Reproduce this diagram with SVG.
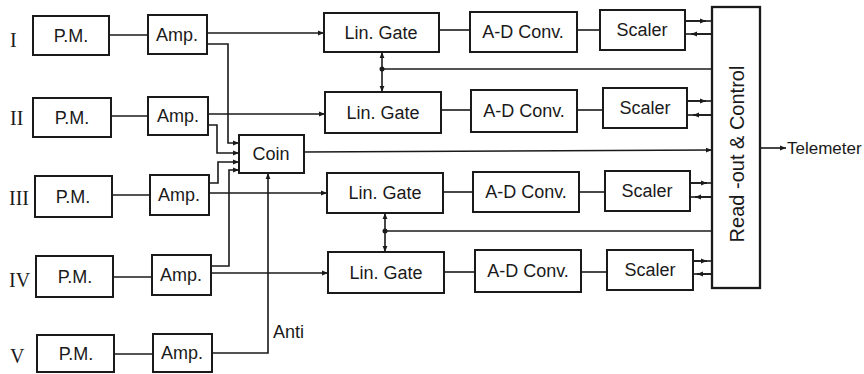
<svg xmlns="http://www.w3.org/2000/svg" width="864" height="374" viewBox="0 0 864 374">
<style>
.b{fill:#fff;stroke:#1a1a1a;stroke-width:2}
.t{font-family:"Liberation Sans",Arial,sans-serif;font-size:18px;fill:#1a1a1a;text-anchor:middle}
.r{font-family:"Liberation Serif","Times New Roman",serif;font-size:20px;fill:#1a1a1a}
.c line,.c polyline{stroke:#1a1a1a;stroke-width:1.6;fill:none}
.ar{marker-end:url(#a)}
</style>
<defs>
<marker id="a" viewBox="0 0 10 10" refX="10" refY="5" markerWidth="8" markerHeight="6" markerUnits="userSpaceOnUse" orient="auto"><path d="M0,1 L10,5 L0,9 z" fill="#1a1a1a"/></marker>
</defs>
<rect width="864" height="374" fill="#fff"/>

<g id="labels">
<text class="r" x="10" y="47">I</text>
<text class="r" x="10" y="125">II</text>
<text class="r" x="9" y="205">III</text>
<text class="r" x="9" y="287">IV</text>
<text class="r" x="10" y="363">V</text>
</g>

<g class="c" id="connectors">
<line x1="109" y1="35" x2="148" y2="35"/>
<line x1="111" y1="116" x2="148" y2="116"/>
<line x1="112" y1="195" x2="150" y2="195"/>
<line x1="113" y1="277" x2="152" y2="277"/>
<line x1="114" y1="354" x2="153" y2="354"/>
<line class="ar" x1="207" y1="33" x2="324" y2="33"/>
<line class="ar" x1="208" y1="114" x2="325" y2="114"/>
<line class="ar" x1="209" y1="193" x2="327" y2="193"/>
<line class="ar" x1="211" y1="273" x2="328" y2="273"/>
<polyline class="ar" points="207,44 228,44 228,143 239,143"/>
<polyline class="ar" points="208,125 217,125 217,153 239,153"/>
<polyline class="ar" points="209,183 218,183 218,162 239,162"/>
<polyline class="ar" points="211,266 229,266 229,170 239,170"/>
<polyline class="ar" points="212,353 268,353 268,173"/>
<line x1="439" y1="30" x2="470" y2="30"/>
<line x1="441" y1="110" x2="471" y2="110"/>
<line x1="443" y1="192" x2="473" y2="192"/>
<line x1="444" y1="272" x2="475" y2="272"/>
<line x1="577" y1="30" x2="600" y2="30"/>
<line x1="577" y1="110" x2="603" y2="110"/>
<line x1="579" y1="192" x2="605" y2="192"/>
<line x1="581" y1="272" x2="607" y2="272"/>
<line class="ar" x1="382" y1="69" x2="382" y2="52"/>
<line class="ar" x1="382" y1="69" x2="382" y2="92"/>
<line x1="382" y1="69" x2="712" y2="69"/>
<circle cx="382" cy="69" r="2.5" fill="#1a1a1a"/>
<line class="ar" x1="385" y1="231" x2="385" y2="213"/>
<line class="ar" x1="385" y1="231" x2="385" y2="252"/>
<line x1="385" y1="231" x2="712" y2="231"/>
<circle cx="385" cy="231" r="2.5" fill="#1a1a1a"/>
<line class="ar" x1="304" y1="152" x2="712" y2="150"/>
<line x1="685" y1="21" x2="712" y2="21"/><line class="ar" x1="685" y1="21" x2="706" y2="21"/>
<line x1="685" y1="34" x2="712" y2="34"/><line class="ar" x1="712" y1="34" x2="691" y2="34"/>
<line x1="687" y1="101" x2="712" y2="101"/><line class="ar" x1="687" y1="101" x2="706" y2="101"/>
<line x1="687" y1="115" x2="712" y2="115"/><line class="ar" x1="712" y1="115" x2="693" y2="115"/>
<line x1="690" y1="183" x2="712" y2="183"/><line class="ar" x1="690" y1="183" x2="707" y2="183"/>
<line x1="690" y1="197" x2="712" y2="197"/><line class="ar" x1="712" y1="197" x2="695" y2="197"/>
<line x1="693" y1="261" x2="712" y2="261"/><line class="ar" x1="693" y1="261" x2="707" y2="261"/>
<line x1="693" y1="274" x2="712" y2="274"/><line class="ar" x1="712" y1="274" x2="697" y2="274"/>
<line class="ar" x1="760" y1="148" x2="786" y2="148"/>
</g>

<g id="pm1"><rect class="b" x="33" y="16" width="76" height="39"/><text class="t" x="71" y="42">P.M.</text></g>
<g id="pm2"><rect class="b" x="33" y="98" width="78" height="39"/><text class="t" x="72" y="124">P.M.</text></g>
<g id="pm3"><rect class="b" x="35" y="176" width="77" height="41"/><text class="t" x="73" y="203">P.M.</text></g>
<g id="pm4"><rect class="b" x="36" y="256" width="77" height="41"/><text class="t" x="75" y="283">P.M.</text></g>
<g id="pm5"><rect class="b" x="37" y="335" width="77" height="37"/><text class="t" x="76" y="360">P.M.</text></g>

<g id="amp1"><rect class="b" x="148" y="15" width="59" height="39"/><text class="t" x="177" y="41">Amp.</text></g>
<g id="amp2"><rect class="b" x="148" y="97" width="60" height="38"/><text class="t" x="178" y="122">Amp.</text></g>
<g id="amp3"><rect class="b" x="150" y="175" width="59" height="40"/><text class="t" x="179" y="201">Amp.</text></g>
<g id="amp4"><rect class="b" x="152" y="255" width="59" height="40"/><text class="t" x="181" y="281">Amp.</text></g>
<g id="amp5"><rect class="b" x="153" y="334" width="59" height="38"/><text class="t" x="182" y="359">Amp.</text></g>

<g id="coin"><rect class="b" x="239" y="135" width="65" height="38"/><text class="t" x="271" y="160">Coin</text></g>
<g id="anti"><text class="t" x="273" y="338" style="text-anchor:start">Anti</text></g>

<g id="gate1"><rect class="b" x="324" y="13" width="115" height="39"/><text class="t" x="381" y="39">Lin. Gate</text></g>
<g id="gate2"><rect class="b" x="325" y="92" width="116" height="41"/><text class="t" x="383" y="119">Lin. Gate</text></g>
<g id="gate3"><rect class="b" x="327" y="173" width="116" height="40"/><text class="t" x="385" y="199">Lin. Gate</text></g>
<g id="gate4"><rect class="b" x="328" y="252" width="116" height="41"/><text class="t" x="386" y="279">Lin. Gate</text></g>

<g id="adc1"><rect class="b" x="470" y="12" width="107" height="40"/><text class="t" x="523" y="38">A-D Conv.</text></g>
<g id="adc2"><rect class="b" x="471" y="90" width="106" height="42"/><text class="t" x="524" y="117">A-D Conv.</text></g>
<g id="adc3"><rect class="b" x="473" y="172" width="106" height="40"/><text class="t" x="526" y="198">A-D Conv.</text></g>
<g id="adc4"><rect class="b" x="475" y="250" width="106" height="42"/><text class="t" x="528" y="277">A-D Conv.</text></g>

<g id="scaler1"><rect class="b" x="600" y="10" width="85" height="40"/><text class="t" x="642" y="36">Scaler</text></g>
<g id="scaler2"><rect class="b" x="603" y="88" width="84" height="40"/><text class="t" x="645" y="114">Scaler</text></g>
<g id="scaler3"><rect class="b" x="605" y="171" width="85" height="40"/><text class="t" x="647" y="197">Scaler</text></g>
<g id="scaler4"><rect class="b" x="607" y="250" width="86" height="40"/><text class="t" x="650" y="276">Scaler</text></g>

<g id="readout"><rect class="b" x="712" y="7" width="48" height="281" style="stroke-width:2.3"/><text class="t" style="font-size:20px" transform="translate(744,154) rotate(-90)">Read -out &amp; Control</text></g>
<g id="telemeter"><text class="t" x="787" y="154" style="text-anchor:start;font-size:17px">Telemeter</text></g>
</svg>
